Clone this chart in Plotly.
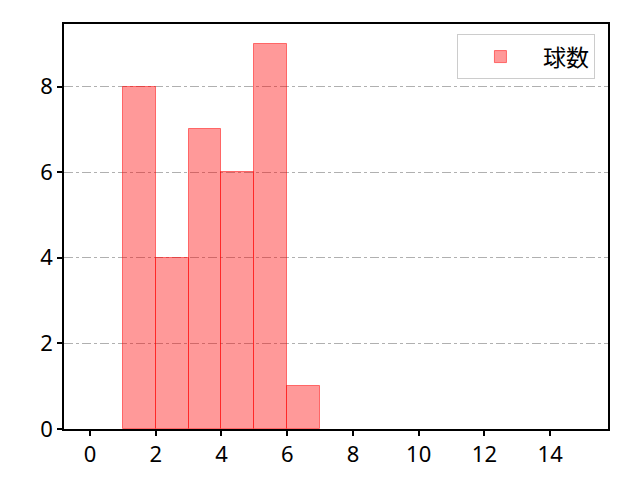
import plotly.graph_objects as go

# Histogram bins (left edges) and counts.
bin_starts = [1, 2, 3, 4, 5, 6]
counts = [8, 4, 7, 6, 9, 1]
series_name = "球数"

x_ticks = [0, 2, 4, 6, 8, 10, 12, 14]
y_ticks = [0, 2, 4, 6, 8]

_FILL = "rgba(255,0,0,0.4)"
_EDGE = "rgba(255,0,0,0.5)"

fig = go.Figure()
fig.add_bar(
    x=[s + 0.5 for s in bin_starts],
    y=counts,
    width=1,
    name=series_name,
    marker={"color": _FILL, "line": {"color": _EDGE, "width": 1}},
    showlegend=True,
)

axis_common = dict(
    showline=True,
    linecolor="black",
    linewidth=1.5,
    mirror=True,
    ticks="outside",
    ticklen=5,
    tickwidth=1.5,
    tickcolor="black",
    tickfont={"family": "Noto Sans", "size": 22, "color": "black"},
    zeroline=False,
)

# The page body adds an 8px offset, so the figure is sized 632x472.
fig.update_layout(
    width=632,
    height=472,
    margin={"l": 56, "r": 32, "t": 16, "b": 48},
    plot_bgcolor="white",
    paper_bgcolor="white",
    font={"family": "Noto Sans CJK JP", "size": 18, "color": "black"},
    xaxis=dict(
        range=[-0.79, 15.76],
        tickvals=x_ticks,
        showgrid=False,
        **axis_common,
    ),
    yaxis=dict(
        range=[0, 9.46],
        tickvals=y_ticks,
        showgrid=True,
        gridcolor="#b0b0b0",
        griddash="dashdot",
        gridwidth=1,
        **axis_common,
    ),
    legend=dict(
        x=0.976,
        y=0.975,
        xanchor="right",
        yanchor="top",
        bordercolor="#cccccc",
        borderwidth=1,
        bgcolor="white",
        itemwidth=75,
        font={"size": 23},
    ),
    bargap=0,
)

fig.write_html("out.html")
